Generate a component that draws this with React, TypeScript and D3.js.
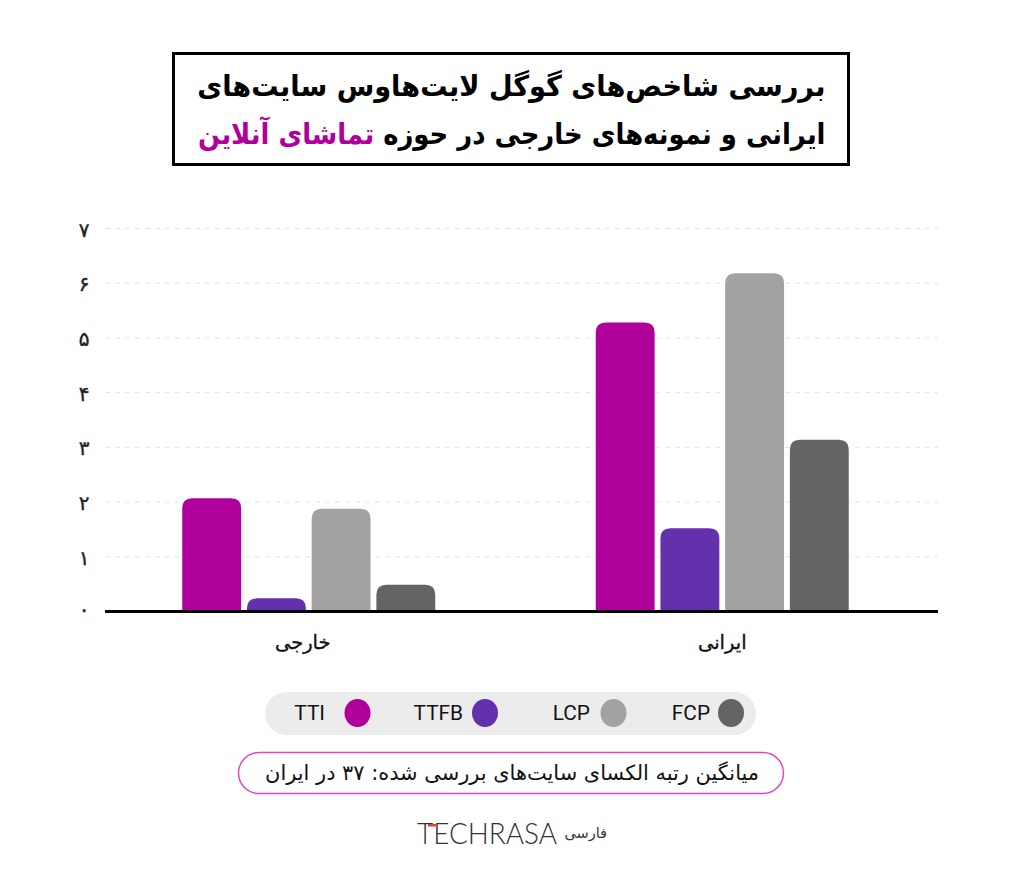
import React from "react";
import * as d3 from "d3";

const groups = ["خارجی", "ایرانی"];
const groupLabelDx = [-6, 0];
const seriesNames = ["TTI", "TTFB", "LCP", "FCP"];
const tti = [2.07, 5.28];
const ttfb = [0.24, 1.52];
const lcp = [1.88, 6.18];
const fcp = [0.49, 3.14];
const seriesValues = [tti, ttfb, lcp, fcp];
const seriesColors = ["#b0009c", "#6331ab", "#a3a1a4", "#646464"];
const yTicks = [0, 1, 2, 3, 4, 5, 6, 7];
const yTickLabels = ["۰", "۱", "۲", "۳", "۴", "۵", "۶", "۷"];
const legendCx = [357.5, 485, 613.5, 731];
const legendTextEnd = [325, 463, 590, 710];

const FONT = "'DejaVu Sans', sans-serif";

export default function App() {
  const y = d3.scaleLinear().domain([0, 7]).range([611.5, 228.5]);
  const x0 = d3.scaleBand().domain(groups).range([102, 929]);
  const x1 = d3.scaleBand().domain(seriesNames).range([0, 253]).paddingInner(0.09);
  const groupLeft = (g: string) => x0(g)! + x0.bandwidth() / 2 - 126.5;
  const barPath = (bx: number, top: number, w: number, base: number) => {
    const r = Math.min(10, base - top);
    const p = d3.path();
    p.moveTo(bx, base);
    p.lineTo(bx, top + r);
    p.quadraticCurveTo(bx, top, bx + r, top);
    p.lineTo(bx + w - r, top);
    p.quadraticCurveTo(bx + w, top, bx + w, top + r);
    p.lineTo(bx + w, base);
    p.closePath();
    return p.toString();
  };
  return (
    <svg width={1024} height={870} style={{ position: "absolute", left: 0, top: 0, background: "#fff" }} fontFamily={FONT}>
      <rect x={173.5} y={53.5} width={675} height={111} fill="#fff" stroke="#000" strokeWidth={3} />
      <g transform="translate(825.5,96) scale(0.945,1)">
        <text x={0} y={0} direction="rtl" textAnchor="start" fontSize={28.8} fontWeight={700} fill="#000">
          بررسی شاخص‌های گوگل لایت‌هاوس سایت‌های
        </text>
      </g>
      <g transform="translate(825.5,144) scale(0.9,1)">
        <text x={0} y={0} direction="rtl" textAnchor="start" fontSize={28.8} fontWeight={700} fill="#000">
          ایرانی و نمونه‌های خارجی در حوزه <tspan fill="#b0009c">تماشای آنلاین</tspan>
        </text>
      </g>

      {yTicks.filter((t) => t > 0).map((t) => (
        <line key={t} x1={105} x2={938} y1={y(t)} y2={y(t)} stroke="#e4e4e4" strokeWidth={1} strokeDasharray="5 5" />
      ))}
      {yTicks.map((t, i) => (
        <text key={t} x={84} y={y(t) + (t === 0 ? 4 : 8)} textAnchor="middle" fontSize={20} fontWeight={400} stroke="#222" strokeWidth={0.4} fill="#222">
          {yTickLabels[i]}
        </text>
      ))}

      {groups.map((g, gi) =>
        seriesNames.map((s, si) => (
          <path
            key={g + s}
            d={barPath(groupLeft(g) + x1(s)!, y(seriesValues[si][gi]), x1.bandwidth(), y(0))}
            fill={seriesColors[si]}
          />
        ))
      )}
      <line x1={105} x2={938} y1={y(0)} y2={y(0)} stroke="#000" strokeWidth={3} />
      {groups.map((g, gi) => (
        <text key={g} x={x0(g)! + x0.bandwidth() / 2 + groupLabelDx[gi]} y={649} textAnchor="middle" direction="rtl" fontSize={19.5} stroke="#111" strokeWidth={0.35} fill="#111">
          {g}
        </text>
      ))}

      <rect x={265} y={692} width={491} height={43} rx={21.5} fill="#ececec" />
      {seriesNames.map((s, i) => (
        <g key={s}>
          <ellipse cx={legendCx[i]} cy={713} rx={13} ry={14} fill={seriesColors[i]} />
          <text x={legendTextEnd[i]} y={720} textAnchor="end" fontFamily="Roboto, sans-serif" fontSize={20.8} fill="#111">
            {s}
          </text>
        </g>
      ))}

      <rect x={238.5} y={752.5} width={545} height={41} rx={20.5} fill="#fff" stroke="#e044c0" strokeWidth={1.5} />
      <text x={759} y={780} direction="rtl" textAnchor="start" fontSize={20.9} fill="#111">
        میانگین رتبه الکسای سایت‌های بررسی شده: ۳۷ در ایران
      </text>

      <text x={417} y={844} fontFamily="Lato, sans-serif" fontSize={29} fontWeight={300} fill="#333" textLength={140} lengthAdjust="spacingAndGlyphs">
        TECHRASA
      </text>
      <rect x={428} y={824} width={9} height={2.5} fill="#e8402a" />
      <text x={607} y={838} direction="rtl" textAnchor="start" fontSize={14.5} fill="#333">
        فارسی
      </text>
    </svg>
  );
}
